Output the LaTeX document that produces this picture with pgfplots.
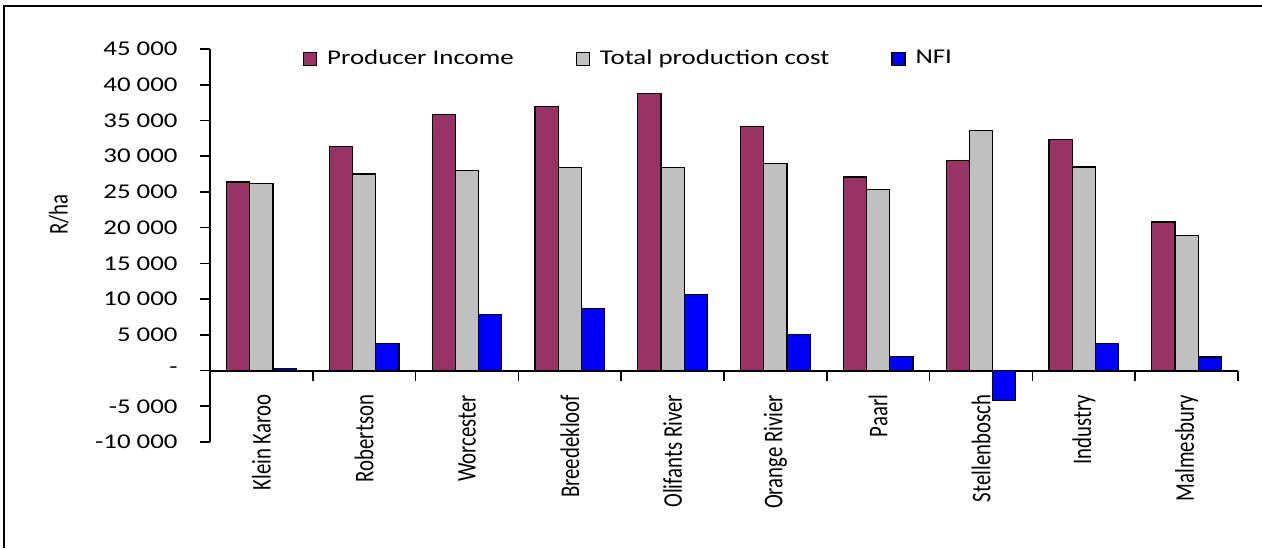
\documentclass[border=0pt]{standalone}
\usepackage{fontspec}
\setmainfont{Carlito}[FakeStretch=1.28]
\newfontfamily\rotfont{Carlito}[FakeStretch=0.77]
\usepackage{pgfplots}
\usepackage{pgfplotstable}
\pgfplotsset{compat=1.18}

\definecolor{plum}{HTML}{993366}
\definecolor{silvergray}{HTML}{C0C0C0}
\definecolor{nfiblue}{HTML}{0000FF}

% R/ha per region
\pgfplotstableread{
x  PI     TPC    NFI
0  26400  26200  250
1  31300  27500  3800
2  35800  28000  7900
3  37000  28400  8700
4  38800  28400  10600
5  34100  29000  5100
6  27100  25300  2000
7  29400  33600  -4200
8  32300  28500  3800
9  20800  18900  1900
}\nfidata

\begin{document}
\fontsize{10.5}{12}\selectfont
\begin{tikzpicture}
\useasboundingbox (-105pt,-53pt) rectangle (526pt,221pt);
\draw[line width=1pt] (-102.75pt,-53pt) -- (-102.75pt,218pt) -- (526pt,218pt);
\begin{axis}[
    scale only axis,
    width=514pt, height=196.5pt,
    xmin=-0.5, xmax=9.5,
    ymin=-10000, ymax=45000,
    clip=false,
    scaled y ticks=false,
    axis x line=middle, axis y line=left,
    axis line style={-, line width=1pt},
    tick align=outside,
    major tick length=5pt, minor tick length=5pt,
    tick style={line width=0.8pt, black},
    ytick={-10000,-5000,0,5000,10000,15000,20000,25000,30000,35000,40000,45000},
    yticklabels={-10 000,-5 000,-\hspace{7pt},5 000,10 000,15 000,20 000,25 000,30 000,35 000,40 000,45 000},
    yticklabel style={anchor=east, inner sep=0pt, xshift=-11pt},
    xtick={0,...,9},
    xticklabels={Klein Karoo,Robertson,Worcester,Breedekloof,Olifants River,Orange Rivier,Paarl,Stellenbosch,Industry,Malmesbury},
    major x tick style={draw=none},
    minor xtick={-0.5,0.5,...,9.5},
    xticklabel style={rotate=90, anchor=east, inner sep=0pt, font=\rotfont\fontsize{13.5}{15}\selectfont},
    xticklabel shift=7pt,
    ybar=0pt, bar width=11.6pt,
    legend columns=3,
    legend style={draw=none, fill=none, inner sep=0pt, outer sep=0pt,
        at={(0.0905,0.975)}, anchor=west,
        nodes={inner sep=0pt},
        /tikz/every odd column/.append style={column sep=5pt},
        /tikz/every even column/.append style={column sep=31pt}},
    legend image code/.code={\draw[#1, line width=0.6pt] (0pt,-3.25pt) rectangle (6.5pt,3.25pt);},
]
\addplot[fill=plum, draw=black, line width=0.6pt] table[x=x, y=PI] {\nfidata};
\addplot[fill=silvergray, draw=black, line width=0.6pt] table[x=x, y=TPC] {\nfidata};
\addplot[fill=nfiblue, draw=black, line width=0.6pt] table[x=x, y=NFI] {\nfidata};
\legend{Producer Income, Total production cost, NFI}
\node[rotate=90, font=\rotfont\fontsize{13.5}{15}\selectfont] at (axis description cs:-0.147,0.578) {R/ha};
\end{axis}
\end{tikzpicture}
\end{document}
